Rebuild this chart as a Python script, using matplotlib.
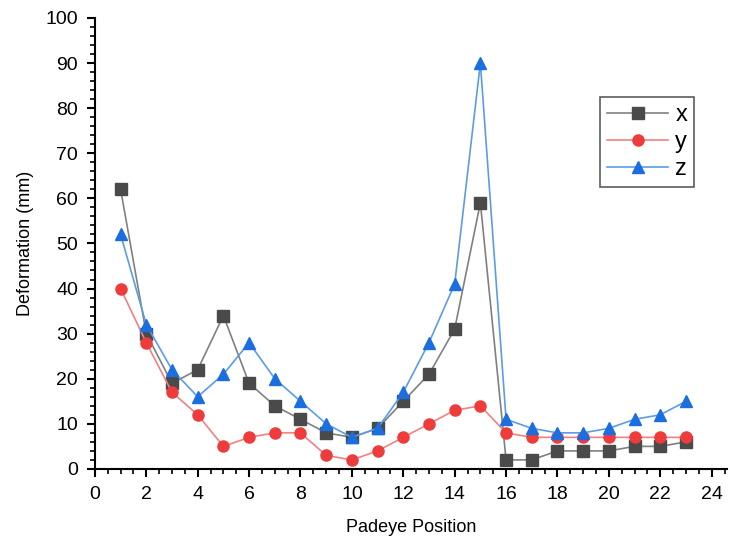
import numpy as np
import matplotlib.pyplot as plt
from matplotlib.ticker import MultipleLocator

plt.rcParams['font.family'] = ['Liberation Sans', 'DejaVu Sans']

# padeye positions and deformation per axis (mm)
positions = list(range(1, 24))
x_def = [62, 30, 19, 22, 34, 19, 14, 11, 8, 7, 9, 15, 21, 31, 59, 2, 2, 4, 4, 4, 5, 5, 6]
y_def = [40, 28, 17, 12, 5, 7, 8, 8, 3, 2, 4, 7, 10, 13, 14, 8, 7, 7, 7, 7, 7, 7, 7]
z_def = [52, 32, 22, 16, 21, 28, 20, 15, 10, 7, 9, 17, 28, 41, 90, 11, 9, 8, 8, 9, 11, 12, 15]

fig = plt.figure(figsize=(7.3, 5.44), dpi=100)
ax = fig.add_axes([0.130, 0.138, 0.866, 0.829])

ax.plot(positions, x_def, color='#808080', lw=1.2, marker='s', ms=8,
        mfc='#4a4a4a', mec='#4a4a4a', label='x')
ax.plot(positions, y_def, color='#f28080', lw=1.2, marker='o', ms=8,
        mfc='#ee3b3b', mec='#ee3b3b', label='y')
ax.plot(positions, z_def, color='#5b9ce8', lw=1.2, marker='^', ms=9,
        mfc='#1a6ee0', mec='#1a6ee0', label='z')

ax.set_xlim(0, 24.6)
ax.set_ylim(0, 100)
ax.xaxis.set_major_locator(MultipleLocator(2))
ax.xaxis.set_minor_locator(MultipleLocator(0.5))
ax.yaxis.set_major_locator(MultipleLocator(10))
ax.yaxis.set_minor_locator(MultipleLocator(2))
ax.tick_params(which='major', direction='out', length=6, width=1.5, labelsize=14, pad=6)
ax.tick_params(which='minor', direction='out', length=3.5, width=1.2)

for s in ['top', 'right']:
    ax.spines[s].set_visible(False)
for s in ['left', 'bottom']:
    ax.spines[s].set_linewidth(1.5)

ax.set_xlabel('Padeye Position', fontsize=13, labelpad=12)
ax.set_ylabel('Deformation (mm)', fontsize=13, labelpad=8)

leg = ax.legend(loc='upper left', bbox_to_anchor=(0.78, 0.85), fontsize=17,
                frameon=True, fancybox=False, edgecolor='#333333',
                handlelength=2.6, borderpad=0.3, labelspacing=0.2, handletextpad=0.3)
leg.get_frame().set_linewidth(1.2)

fig.savefig('out.png', dpi=100)
